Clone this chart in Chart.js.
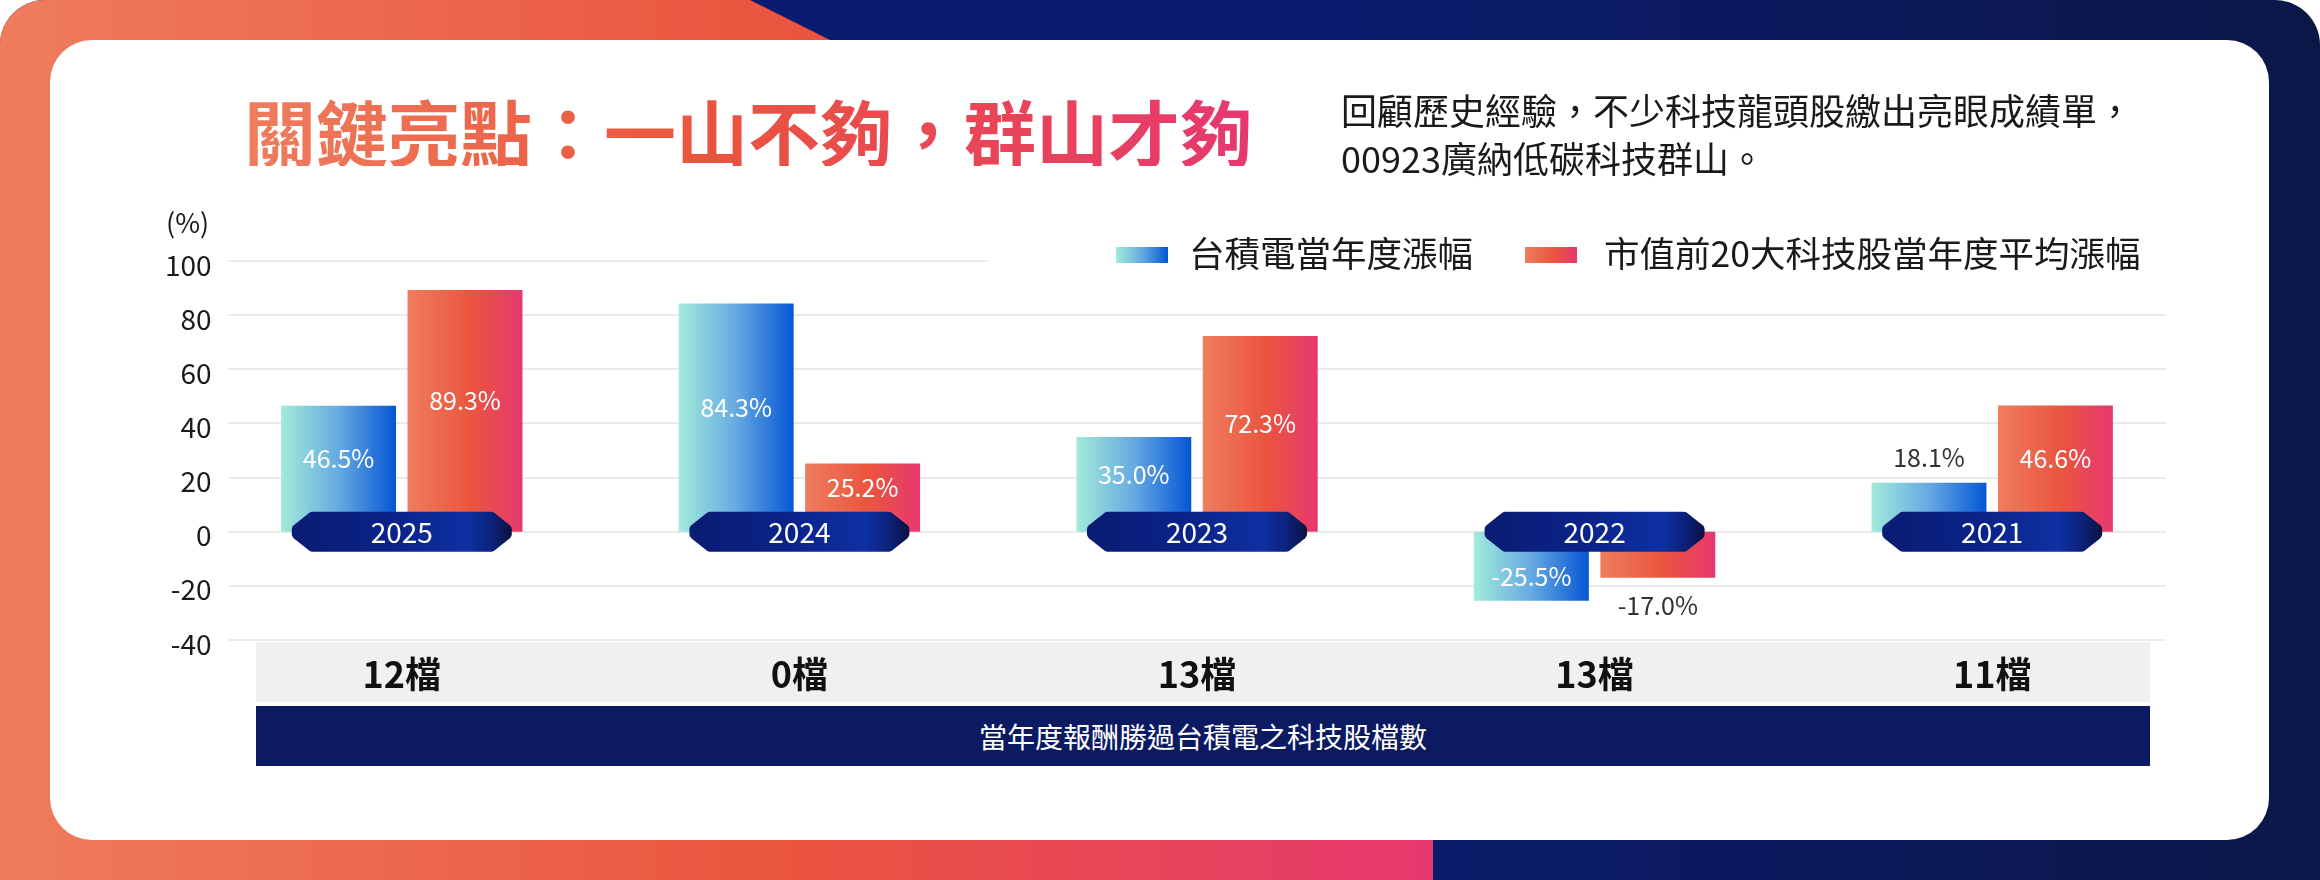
<!DOCTYPE html>
<html><head><meta charset="utf-8">
<script src="https://cdn.jsdelivr.net/npm/chart.js@4.4.1/dist/chart.umd.min.js"></script>
<style>
html,body{margin:0;padding:0;background:#fff;}
body{width:2320px;height:880px;position:relative;overflow:hidden;font-family:"Noto Sans CJK TC","Noto Sans",sans-serif;}
#frame{position:absolute;left:0;top:0;width:2320px;height:880px;border-radius:45px 45px 0 0;overflow:hidden;background:linear-gradient(90deg,#0A1C72 0%,#0A1C70 55%,#0C1748 100%);z-index:0;}
#orange{position:absolute;left:0;top:0;width:1433px;height:880px;background:linear-gradient(90deg,#EF7C5D 0%,#EA553E 55%,#E6386F 100%);clip-path:polygon(0 0,750px 0,830px 40px,830px 840px,1433px 840px,1433px 880px,0 880px);}
#card{position:absolute;left:50px;top:40px;width:2219px;height:800px;background:#fff;border-radius:42px;z-index:1;}
#grayband{position:absolute;left:256px;top:642px;width:1894px;height:60px;background:#F0F0F0;z-index:2;}
#navyband{position:absolute;left:256px;top:706px;width:1894px;height:60px;background:#0C1A62;z-index:2;display:flex;align-items:center;justify-content:center;color:#fff;font-size:28px;line-height:1;}
#chart{position:absolute;left:0;top:0;z-index:3;}
#title{position:absolute;left:244px;top:94px;font-size:72px;line-height:72px;font-weight:700;white-space:nowrap;z-index:4;background:linear-gradient(90deg,#EF7C5D 0%,#EA553E 45%,#E6386F 100%);-webkit-background-clip:text;background-clip:text;color:transparent;}
#sub{position:absolute;left:1341px;top:85px;font-size:36px;line-height:48px;color:#1a1a1a;white-space:nowrap;z-index:4;}
#unit{position:absolute;left:166px;top:204px;font-size:27px;line-height:36px;color:#1a1a1a;z-index:4;}
</style></head>
<body>
<div id="frame"><div id="orange"></div></div>
<div id="card"></div>
<div id="grayband"></div>
<div id="navyband">當年度報酬勝過台積電之科技股檔數</div>
<canvas id="chart" width="2320" height="880"></canvas>
<div id="title">關鍵亮點：一山不夠，群山才夠</div>
<div id="sub">回顧歷史經驗，不少科技龍頭股繳出亮眼成績單，<br>00923廣納低碳科技群山。</div>
<div id="unit">(%)</div>
<script>
const years = ['2025','2024','2023','2022','2021'];
const tsmcChange = [46.5, 84.3, 35.0, -25.5, 18.1];
const top20Change = [89.3, 25.2, 72.3, -17.0, 46.6];
const beatCounts = ['12檔','0檔','13檔','13檔','11檔'];
const seriesNames = ['台積電當年度漲幅','市值前20大科技股當年度平均漲幅'];
const yMin = -40, yMax = 100, yStep = 20;

const FONT = '"Noto Sans CJK TC","Noto Sans",sans-serif';
const tsmcStops = [[0,'#A2EBDA'],[0.5,'#66A9E2'],[1,'#0457D5']];
const top20Stops = [[0,'#EF7D5E'],[0.55,'#EA553E'],[1,'#E6386F']];
const catPct = 0.636, barPct = 0.909;

function gradFor(stops){
  return function(c){
    const chart = c.chart, ca = chart.chartArea, xs = chart.scales.x;
    if(!ca || !xs || c.dataIndex === undefined) return stops[1][1];
    const catW = (ca.right - ca.left) / years.length;
    const slot = catW * catPct / 2, bw = slot * barPct;
    const cx = xs.getPixelForValue(c.dataIndex) + (c.datasetIndex === 0 ? -slot/2 : slot/2);
    const g = chart.ctx.createLinearGradient(cx - bw/2, 0, cx + bw/2, 0);
    stops.forEach(s => g.addColorStop(s[0], s[1]));
    return g;
  };
}

const gridPlugin = {
  id: 'customGrid',
  beforeDatasetsDraw(chart){
    const {ctx, chartArea: ca} = chart; const ys = chart.scales.y;
    ctx.save();
    ctx.strokeStyle = '#EBEBEB'; ctx.lineWidth = 2;
    ys.ticks.forEach(t => {
      const py = Math.round(ys.getPixelForValue(t.value));
      ctx.beginPath(); ctx.moveTo(ca.left + 25, py); ctx.lineTo(ca.right - 25, py); ctx.stroke();
    });
    // legend background box
    ctx.fillStyle = '#fff';
    ctx.fillRect(988, 236, 1185, 44);
    const items = [
      {x: 1116, stops: tsmcStops, text: seriesNames[0], tx: 1189},
      {x: 1525, stops: top20Stops, text: seriesNames[1], tx: 1604}
    ];
    items.forEach(it => {
      const g = ctx.createLinearGradient(it.x, 0, it.x + 52, 0);
      it.stops.forEach(s => g.addColorStop(s[0], s[1]));
      ctx.fillStyle = g; ctx.fillRect(it.x, 247, 52, 16);
      ctx.fillStyle = '#1a1a1a'; ctx.font = '35.5px ' + FONT;
      ctx.textAlign = 'left'; ctx.textBaseline = 'middle';
      ctx.fillText(it.text, it.tx, 254);
    });
    ctx.restore();
  }
};

function pillPath(ctx, cx, cy, w, h){
  const c = 19, s = 5, r = 5;
  const l = cx - w/2, rr = cx + w/2, t = cy - h/2, b = cy + h/2;
  ctx.beginPath();
  ctx.moveTo(cx, t);
  ctx.arcTo(rr - c, t, rr, cy - s, r);
  ctx.arcTo(rr, cy - s, rr, cy + s, r);
  ctx.arcTo(rr, cy + s, rr - c, b, r);
  ctx.arcTo(rr - c, b, l + c, b, r);
  ctx.arcTo(l + c, b, l, cy + s, r);
  ctx.arcTo(l, cy + s, l, cy - s, r);
  ctx.arcTo(l, cy - s, l + c, t, r);
  ctx.arcTo(l + c, t, cx, t, r);
  ctx.closePath();
}

const overlayPlugin = {
  id: 'overlay',
  afterDatasetsDraw(chart){
    const {ctx} = chart; const xs = chart.scales.x, ys = chart.scales.y;
    const zero = ys.getPixelForValue(0);
    const pw = 220, ph = 40;
    ctx.save();
    years.forEach((yr, i) => {
      const cx = xs.getPixelForValue(i);
      const g = ctx.createLinearGradient(cx - pw/2, 0, cx + pw/2, 0);
      g.addColorStop(0, '#0A1C72'); g.addColorStop(0.45, '#0B2389');
      g.addColorStop(0.8, '#0E30A2'); g.addColorStop(0.9, '#0C2380'); g.addColorStop(1, '#0A1240');
      pillPath(ctx, cx, zero, pw, ph);
      ctx.fillStyle = g; ctx.fill();
      ctx.fillStyle = '#fff'; ctx.font = '28px ' + FONT;
      ctx.textAlign = 'center'; ctx.textBaseline = 'middle';
      ctx.fillText(yr, cx, zero + 1);
    });
    const pillTop = zero - ph/2, pillBot = zero + ph/2;
    ctx.font = '25px ' + FONT; ctx.textAlign = 'center'; ctx.textBaseline = 'middle';
    chart.data.datasets.forEach((ds, di) => {
      const meta = chart.getDatasetMeta(di);
      meta.data.forEach((el, i) => {
        const v = ds.data[i];
        const txt = v.toFixed(1) + '%';
        let ty, col = '#fff';
        if (v >= 0) {
          const vis = pillTop - el.y;
          if (vis >= 40) ty = (el.y + pillTop) / 2; else { ty = el.y - 25; col = '#333'; }
        } else {
          const vis = el.y - pillBot;
          if (vis >= 40) ty = (el.y + pillBot) / 2; else { ty = el.y + 28; col = '#333'; }
        }
        ctx.fillStyle = col;
        ctx.fillText(txt, el.x, ty);
      });
    });
    ctx.restore();
  }
};

new Chart(document.getElementById('chart'), {
  type: 'bar',
  data: {
    labels: years,
    datasets: [
      {label: seriesNames[0], data: tsmcChange, backgroundColor: gradFor(tsmcStops), categoryPercentage: catPct, barPercentage: barPct},
      {label: seriesNames[1], data: top20Change, backgroundColor: gradFor(top20Stops), categoryPercentage: catPct, barPercentage: barPct}
    ]
  },
  options: {
    responsive: false,
    devicePixelRatio: 1,
    animation: false,
    layout: {padding: {left: 0, right: 129, top: 261, bottom: 0}},
    plugins: {legend: {display: false}, tooltip: {enabled: false}},
    scales: {
      x: {
        grid: {display: false, drawTicks: false}, border: {display: false},
        ticks: {
          callback: (v, i) => beatCounts[i],
          font: {family: FONT, size: 36, weight: 'bold'}, color: '#111',
          padding: 13, maxRotation: 0, autoSkip: false
        },
        afterFit(s){ s.height = 240; }
      },
      y: {
        min: yMin, max: yMax,
        grid: {display: false, drawTicks: false}, border: {display: false},
        ticks: {
          stepSize: yStep, font: {family: FONT, size: 28}, color: '#1a1a1a',
          mirror: true, crossAlign: 'far', padding: -38, labelOffset: 4
        },
        afterFit(s){ s.width = 203; }
      }
    }
  },
  plugins: [gridPlugin, overlayPlugin]
});
</script>
</body></html>
